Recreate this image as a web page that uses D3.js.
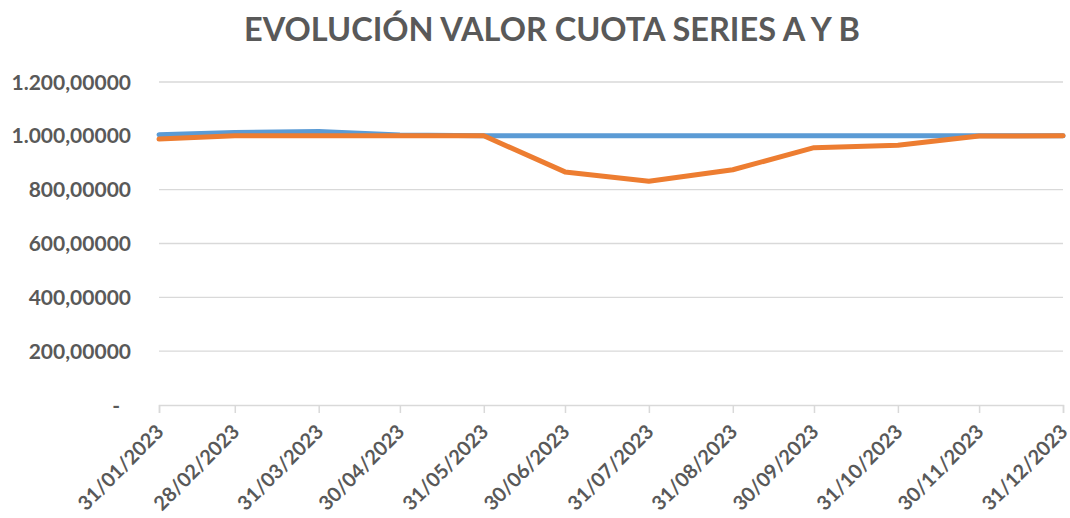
<!DOCTYPE html>
<html><head><meta charset="utf-8">
<script src="https://cdn.jsdelivr.net/npm/d3@7"></script>
<style>body{margin:0;background:#fff;} text{font-family:Lato,"Open Sans",sans-serif;font-weight:bold;fill:#595959;}</style>
</head><body>
<svg id="c" width="1070" height="518"></svg>
<script>
const title = "EVOLUCIÓN VALOR CUOTA SERIES A Y B";
const dates = ["31/01/2023","28/02/2023","31/03/2023","30/04/2023","31/05/2023","30/06/2023","31/07/2023","31/08/2023","30/09/2023","31/10/2023","30/11/2023","31/12/2023"];
const serieA = [1004, 1012, 1016, 1003, 1000, 1000, 1000, 1000, 1000, 1000, 1000, 1000];
const serieB = [988, 1000, 1000, 1000, 1000, 866, 831, 874, 956, 965, 999, 1000];
const yTicks = [0, 200, 400, 600, 800, 1000, 1200];

const parse = d3.timeParse("%d/%m/%Y");
const dt = dates.map(parse);
const svg = d3.select("#c");
const x = d3.scaleTime().domain([dt[0], dt[dt.length-1]]).range([159, 1063]);
const y = d3.scaleLinear().domain([0, 1200]).range([405, 82]);

const fmt = v => v === 0 ? "-" : d3.formatLocale({decimal:",", thousands:".", grouping:[3]}).format(",.5f")(v);

// gridlines
svg.append("g").selectAll("line").data(yTicks.filter(v=>v>0)).join("line")
  .attr("x1", 159).attr("x2", 1063).attr("y1", d=>y(d)).attr("y2", d=>y(d))
  .attr("stroke", "#d9d9d9").attr("stroke-width", 1.3);

// y labels
svg.append("g").selectAll("text").data(yTicks).join("text")
  .attr("x", d => d===0 ? 120 : 131).attr("y", d=>y(d)).attr("dy", "0.36em")
  .attr("text-anchor", "end").style("font-size", "21px").text(fmt);

// x axis
const xAxis = d3.axisBottom(x).tickValues(dt).tickSize(8).tickFormat("");
const gx = svg.append("g").attr("transform", "translate(0,405)").call(xAxis);
gx.select(".domain").attr("stroke", "#d9d9d9").attr("stroke-width", 1.5);
gx.selectAll(".tick line").attr("stroke", "#d9d9d9").attr("stroke-width", 1.5);

svg.append("g").selectAll("text").data(dt).join("text")
  .attr("transform", (d)=>`translate(${x(d)+1},${428}) rotate(-45)`)
  .attr("text-anchor", "end").attr("dy", "0.35em").style("font-size", "20px")
  .text((d,i)=>dates[i]);

// lines
const line = d3.line().x((d,i)=>x(dt[i])).y(d=>y(d));
svg.append("path").datum(serieA).attr("d", line).attr("fill","none")
  .attr("stroke","#5b9bd5").attr("stroke-width",5).attr("stroke-linejoin","round").attr("stroke-linecap","round");
svg.append("path").datum(serieB).attr("d", line).attr("fill","none")
  .attr("stroke","#ed7d31").attr("stroke-width",5).attr("stroke-linejoin","round").attr("stroke-linecap","round");

// title
svg.append("text").attr("x", 552).attr("y", 41).attr("text-anchor","middle")
  .style("font-size","32.5px").text(title);
</script>
</body></html>
